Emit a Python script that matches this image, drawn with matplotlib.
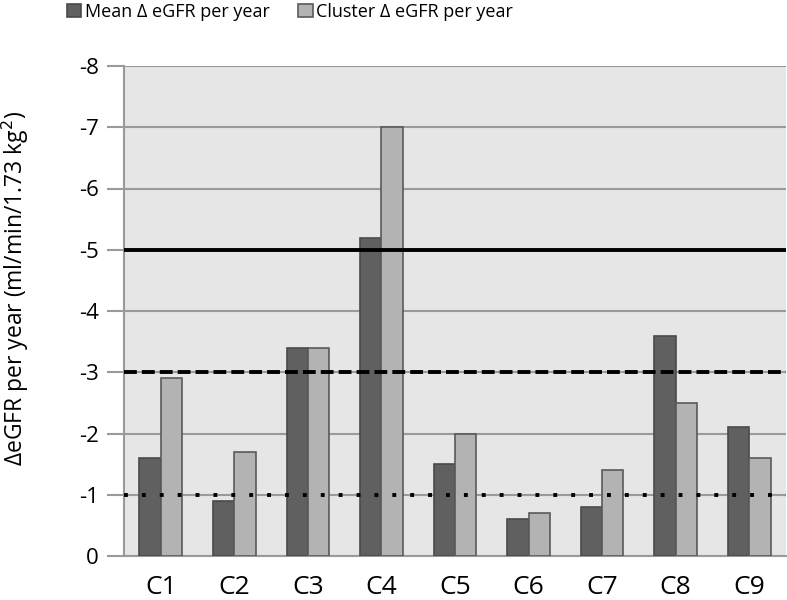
import numpy as np
import matplotlib.pyplot as plt

clusters = ['C1', 'C2', 'C3', 'C4', 'C5', 'C6', 'C7', 'C8', 'C9']
mean_change = [-1.6, -0.9, -3.4, -5.2, -1.5, -0.6, -0.8, -3.6, -2.1]
cluster_change = [-2.9, -1.7, -3.4, -7.0, -2.0, -0.7, -1.4, -2.5, -1.6]
y_ticks = [0, -1, -2, -3, -4, -5, -6, -7, -8]

plt.rcParams['font.family'] = ['Open Sans', 'DejaVu Sans']

fig = plt.figure(figsize=(7.87, 6), dpi=100)
ax = fig.add_axes([124 / 787, 1 - 556 / 600, 662 / 787, 490 / 600])
ax.set_facecolor('#e6e6e6')

x = np.arange(len(clusters))
w = 0.29
ax.bar(x - w / 2, mean_change, w, color='#606060', edgecolor='#4a4a4a', linewidth=1.2,
       label='Mean Δ eGFR per year', zorder=3)
ax.bar(x + w / 2, cluster_change, w, color='#b3b3b3', edgecolor='#5a5a5a', linewidth=1.2,
       label='Cluster Δ eGFR per year', zorder=3)

# threshold lines
ax.axhline(-5, color='black', lw=2.8, zorder=4)
ax.axhline(-3, color='black', lw=2.8, ls=(0, (3.3, 1.3)), zorder=4)
ax.axhline(-1, color='black', lw=2.8, ls=(0, (1, 3.6)), zorder=4)

ax.set_xlim(-0.5, len(clusters) - 0.5)
ax.set_ylim(0, -8)
ax.set_yticks(y_ticks)
ax.set_yticklabels([str(t) for t in y_ticks], fontsize=16)
ax.set_xticks(x)
ax.set_xticklabels(clusters, fontsize=19)
ax.tick_params(axis='x', length=0, pad=14)
ax.tick_params(axis='y', length=12, width=1.5, color='#9a9a9a', pad=6)
ax.grid(axis='y', color='#9a9a9a', lw=1.5, zorder=1)
for s in ['top', 'right']:
    ax.spines[s].set_visible(False)
ax.spines['left'].set_color('#9a9a9a')
ax.spines['left'].set_linewidth(1.5)
ax.spines['bottom'].set_color('#9a9a9a')
ax.spines['bottom'].set_linewidth(1.5)

ax.set_ylabel('ΔeGFR per year (ml/min/1.73 kg$^2$)', fontsize=16.5)
ax.yaxis.set_label_coords(-0.14, 0.545)

fig.legend(*ax.get_legend_handles_labels(), loc='upper center',
           bbox_to_anchor=(290 / 787, 1.0), ncol=2, frameon=False,
           fontsize=13, handlelength=0.8, handleheight=0.8, handletextpad=0.2,
           columnspacing=1.6, borderpad=0.15, borderaxespad=0)

fig.savefig('out.png', dpi=100)
